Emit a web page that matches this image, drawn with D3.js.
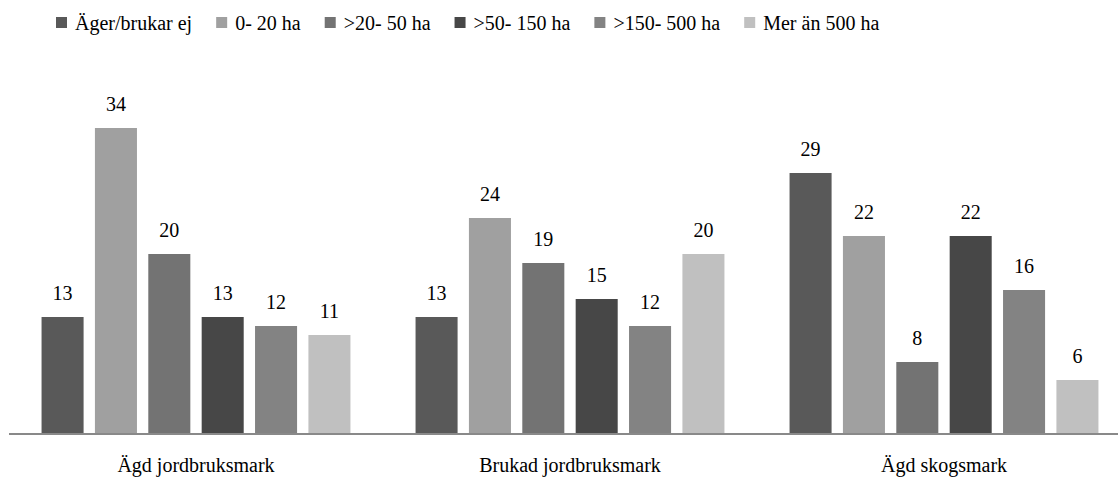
<!DOCTYPE html>
<html><head><meta charset="utf-8">
<script src="https://cdn.jsdelivr.net/npm/d3@7"></script>
<style>body{margin:0;background:#fff}svg{display:block}svg text{font-family:"Liberation Serif" !important}</style>
</head><body><svg id="c" width="1118" height="479"></svg>
<script>
const categories = ["Ägd jordbruksmark", "Brukad jordbruksmark", "Ägd skogsmark"];
const seriesNames = ["Äger/brukar ej", "0- 20 ha", ">20- 50 ha", ">50- 150 ha", ">150- 500 ha", "Mer än 500 ha"];
const seriesValues = [
  [13, 13, 29],
  [34, 24, 22],
  [20, 19, 8],
  [13, 15, 22],
  [12, 12, 16],
  [11, 20, 6]
];
const colors = ["#595959", "#a0a0a0", "#737373", "#474747", "#838383", "#c0c0c0"];

const svg = d3.select("#c");
const left = 9, right = 1118, base = 434;
const x0 = d3.scaleBand().domain(categories).range([left, left + 3 * 374]).paddingInner(0).paddingOuter(0);
const x1 = d3.scaleBand().domain(seriesNames).range([0, x0.bandwidth()]).paddingInner(0.2125).paddingOuter(0.61);
const y = d3.scaleLinear().domain([0, 40]).range([base, base - 360]);

const g = svg.append("g");
categories.forEach((cat, ci) => {
  seriesNames.forEach((s, si) => {
    const v = seriesValues[si][ci];
    const bx = x0(cat) + x1(s);
    g.append("rect").attr("x", bx).attr("y", y(v)).attr("width", x1.bandwidth())
      .attr("height", y(0) - y(v)).attr("fill", colors[si]);
    g.append("text").attr("x", bx + x1.bandwidth() / 2).attr("y", y(v) - 17)
      .attr("text-anchor", "middle").attr("font-size", 20).style("font-family", '"Liberation Serif"').text(v);
  });
});

// axis
const ax = svg.append("g").attr("transform", `translate(0,${base})`)
  .call(d3.axisBottom(x0).tickSize(0).tickPadding(24));
ax.attr("font-family", null);
ax.select(".domain").attr("stroke", "#898989").attr("stroke-width", 2).attr("d", `M${left},0H${right}`);
ax.selectAll("text").attr("font-size", 20).style("font-family", '"Liberation Serif"').attr("fill", "#000");

// legend
const lg = svg.append("g");
let lx = 56;
seriesNames.forEach((s, i) => {
  lg.append("rect").attr("x", lx).attr("y", 17).attr("width", 11).attr("height", 11).attr("fill", colors[i]);
  const t = lg.append("text").attr("x", lx + 19).attr("y", 30).attr("font-size", 20).style("font-family", '"Liberation Serif"').text(s);
  lx += 19 + t.node().getComputedTextLength() + 24;
});
</script></body></html>
